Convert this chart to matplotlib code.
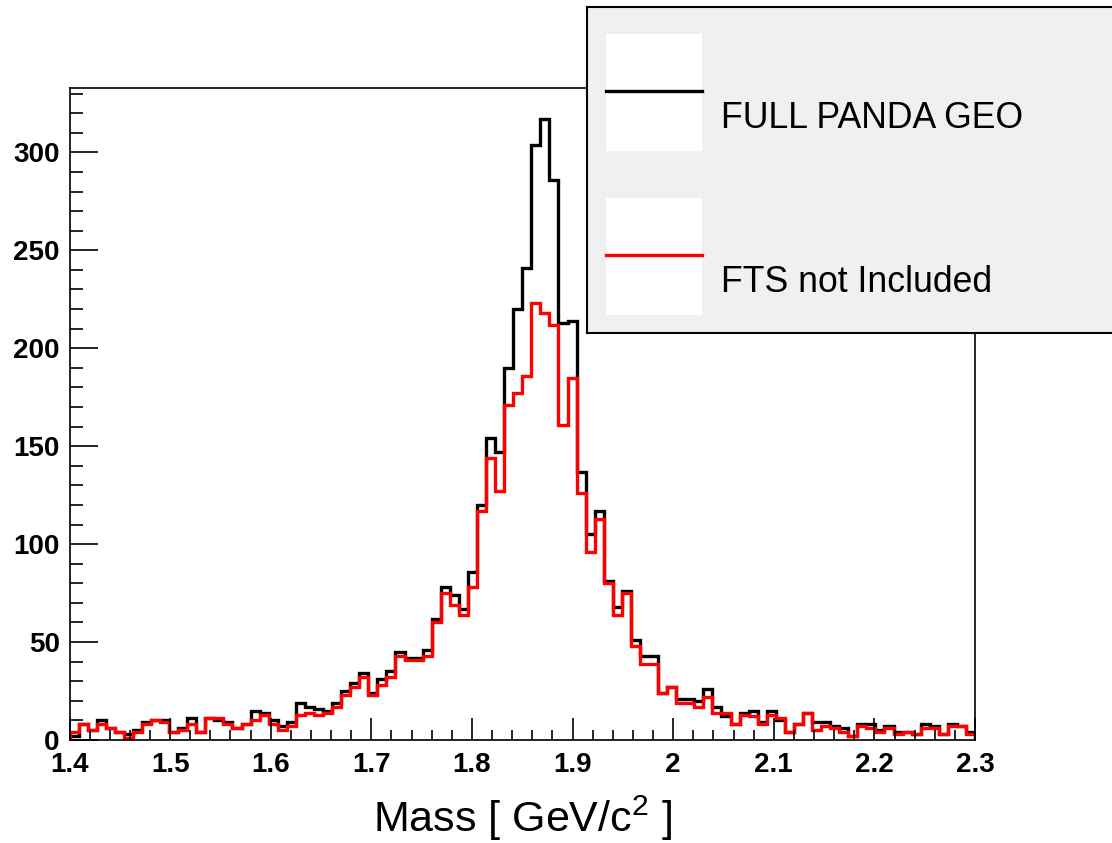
import numpy as np
import matplotlib.pyplot as plt
from matplotlib.patches import Rectangle

plt.rcParams['font.family'] = ['Liberation Sans', 'DejaVu Sans']
plt.rcParams['mathtext.fontset'] = 'custom'
plt.rcParams['mathtext.rm'] = 'Liberation Sans'
plt.rcParams['mathtext.it'] = 'Liberation Sans:italic'

# invariant mass histogram, 100 bins between 1.4 and 2.3 GeV/c^2
mass_min, mass_max, n_bins = 1.4, 2.3, 100

full_geo = [2, 8, 5, 10, 6, 4, 3, 5, 9, 10,
            10, 4, 6, 11, 4, 11, 10, 9, 6, 8,
            15, 14, 10, 7, 9, 19, 17, 16, 15, 19,
            25, 29, 34, 24, 31, 35, 45, 42, 42, 46,
            62, 78, 74, 67, 86, 120, 154, 147, 190, 220,
            241, 304, 317, 286, 213, 214, 137, 105, 117, 81,
            68, 76, 51, 43, 43, 24, 27, 21, 21, 20,
            26, 17, 12, 8, 14, 15, 9, 15, 10, 4,
            8, 14, 9, 9, 7, 6, 2, 8, 8, 5,
            7, 4, 4, 3, 8, 7, 3, 8, 7, 4]

no_fts = [4, 8, 5, 8, 6, 4, 1, 4, 8, 10,
          9, 4, 5, 8, 4, 11, 11, 8, 6, 8,
          10, 13, 8, 5, 7, 13, 14, 13, 14, 17,
          23, 27, 32, 23, 28, 32, 43, 41, 41, 43,
          60, 75, 69, 64, 78, 117, 144, 127, 171, 177,
          186, 223, 218, 212, 161, 185, 126, 96, 113, 80,
          64, 75, 48, 39, 39, 24, 27, 19, 19, 17,
          22, 14, 14, 8, 13, 12, 8, 13, 11, 4,
          8, 14, 5, 7, 6, 4, 2, 7, 6, 4,
          6, 3, 4, 3, 6, 6, 3, 7, 7, 3]

labels = ['FULL PANDA GEO', 'FTS not Included']
colors = ['black', '#ff0000']

edges = np.linspace(mass_min, mass_max, n_bins + 1)

W, H = 1112, 843
fig = plt.figure(figsize=(W / 100, H / 100), dpi=100)
ax = fig.add_axes([69.5 / W, 103 / H, 905.5 / W, 652 / H])

for vals, c in zip([full_geo, no_fts], colors):
    ax.stairs(vals, edges, color=c, linewidth=2.4)

ax.set_xlim(mass_min, mass_max)
ax.set_ylim(0, 1.05 * max(full_geo))

ax.set_xticks(np.arange(1.4, 2.31, 0.1))
ax.set_xticks(np.arange(1.4, 2.31, 0.02), minor=True)
ax.set_xticklabels(['1.4', '1.5', '1.6', '1.7', '1.8', '1.9', '2', '2.1', '2.2', '2.3'])
ax.set_yticks(np.arange(0, 301, 50))
ax.set_yticks(np.arange(0, 331, 10), minor=True)

ax.tick_params(axis='both', which='both', direction='in', top=False, right=False,
               width=1.2, labelsize=20)
ax.tick_params(axis='y', which='major', length=20, pad=7)
ax.tick_params(axis='y', which='minor', length=9.5)
ax.tick_params(axis='x', which='major', length=16, pad=9)
ax.tick_params(axis='x', which='minor', length=7.5)
for lab in ax.get_xticklabels() + ax.get_yticklabels():
    lab.set_fontweight('bold')
for s in ax.spines.values():
    s.set_linewidth(1.2)

ax.set_xlabel('Mass [ GeV/c$^{2}$ ]', fontsize=31)
ax.xaxis.set_label_coords(0.5, -0.12)
ax.xaxis.label.set_va('center')

# legend box in the upper right corner, in pixel units
leg = fig.add_axes([587 / W, (H - 333) / H, 560 / W, 326 / H])
leg.set_xlim(0, 560)
leg.set_ylim(326, 0)
leg.set_facecolor('#f0f0f0')
leg.set_xticks([])
leg.set_yticks([])
for s in leg.spines.values():
    s.set_linewidth(1.5)

for i, (lab, c) in enumerate(zip(labels, colors)):
    y0 = 27 + i * 164
    leg.add_patch(Rectangle((19, y0), 96, 117, facecolor='white', edgecolor='none'))
    leg.plot([19, 115], [y0 + 57.5, y0 + 57.5], color=c, linewidth=2.4)
    leg.text(134, y0 + 94, lab, fontsize=25.7, va='baseline', ha='left')

fig.savefig('out.png', dpi=100)
